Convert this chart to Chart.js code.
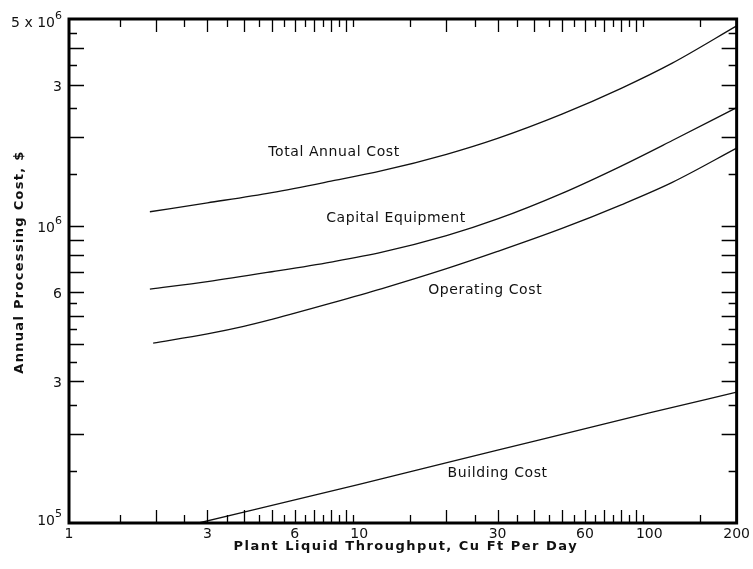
<!DOCTYPE html>
<html>
<head>
<meta charset="utf-8">
<script src="https://cdn.jsdelivr.net/npm/chart.js@4.4.1/dist/chart.umd.min.js"></script>
<style>
  body { margin: 0; background: #fff; }
</style>
</head>
<body>
<canvas id="myChart" width="753" height="569"></canvas>
<script>
// Values (throughput in cu ft per day, cost in $)
let throughput = [1.9, 3, 5, 8, 12, 20, 30, 50, 80, 120, 200];
let totalCost = [1.12e6, 1.20e6, 1.30e6, 1.42e6, 1.54e6, 1.75e6, 1.98e6, 2.39e6, 2.92e6, 3.55e6, 4.74e6];
let capitalCost = [6.14e5, 6.51e5, 7.03e5, 7.58e5, 8.18e5, 9.30e5, 1.059e6, 1.292e6, 1.597e6, 1.947e6, 2.514e6];

let operatingThroughput = [1.95, 3, 4, 5, 8, 12, 20, 30, 50, 80, 120, 200];
let operatingCost = [4.04e5, 4.34e5, 4.60e5, 4.86e5, 5.51e5, 6.17e5, 7.20e5, 8.23e5, 9.84e5, 1.182e6, 1.407e6, 1.835e6];

let buildingThroughput = [2.8, 10, 30, 100, 200];
let buildingCost = [1.0e5, 1.35e5, 1.76e5, 2.35e5, 2.76e5];

// Tick labels
let xTickLabels = [1, 3, 6, 10, 30, 60, 100, 200];
let yTickLabels = [1e5, 3e5, 6e5, 1e6, 3e6, 5e6];

// Curve names written on the chart, placed in data units
let curveNames = ["Total Annual Cost", "Capital Equipment", "Operating Cost", "Building Cost"];
let curveNameX = [8.19, 13.4, 27.2, 30.0];
let curveNameY = [1.78e6, 1.068e6, 6.1e5, 1.474e5];

let xTitle = "Plant Liquid Throughput, Cu Ft Per Day";
let yTitle = "Annual Processing Cost, $";

let fontFamily = "'DejaVu Sans', sans-serif";

function toPoints(xs, ys) {
    return xs.map(function(v, i) { return { x: v, y: ys[i] }; });
}

function curve(label, xs, ys) {
    return {
        label: label,
        data: toPoints(xs, ys),
        borderColor: '#111',
        borderWidth: 1.3,
        pointRadius: 0,
        fill: false,
        cubicInterpolationMode: 'monotone'
    };
}

// minor tick positions on the log axes
function minorTicks(min, max, mantissas) {
    let out = [];
    for (let d = Math.pow(10, Math.floor(Math.log10(min))); d < max; d *= 10) {
        mantissas.forEach(function(m) {
            let v = m * d;
            if (v > min * 1.0001 && v < max * 0.9999) out.push(v);
        });
    }
    return out;
}

function isWhole(v) {
    let m = v / Math.pow(10, Math.floor(Math.log10(v) + 1e-9));
    return Math.abs(m - Math.round(m)) < 1e-6;
}

let xMinor = minorTicks(1, 200, [1.5, 2, 2.5, 3, 3.5, 4, 4.5, 5, 5.5, 6, 6.5, 7, 7.5, 8, 8.5, 9, 9.5]).filter(function(v) { return v < 100 || v === 150; });
let yMinor = minorTicks(1e5, 5e6, [1.5, 2, 2.5, 3, 3.5, 4, 4.5, 5, 5.5, 6, 7, 8, 9, 10]);

// Frame, inward ticks, y labels with exponents, axis titles and curve names
const decorations = {
    id: 'decorations',
    afterDraw(chart) {
        const ctx = chart.ctx;
        const a = chart.chartArea;
        const x = chart.scales.x;
        const y = chart.scales.y;
        ctx.save();
        ctx.strokeStyle = '#000';
        ctx.lineWidth = 1.3;
        ctx.beginPath();
        xMinor.forEach(function(v) {
            let px = Math.round(x.getPixelForValue(v)) + 0.5;
            let len = isWhole(v) ? 13 : 8;
            ctx.moveTo(px, a.bottom);
            ctx.lineTo(px, a.bottom - len);
            ctx.moveTo(px, a.top);
            ctx.lineTo(px, a.top + len);
        });
        yMinor.forEach(function(v) {
            let py = Math.round(y.getPixelForValue(v)) + 0.5;
            let len = isWhole(v) ? 15 : 8;
            ctx.moveTo(a.left, py);
            ctx.lineTo(a.left + len, py);
            ctx.moveTo(a.right, py);
            ctx.lineTo(a.right - len, py);
        });
        ctx.stroke();

        // heavy frame
        ctx.lineWidth = 3;
        ctx.strokeRect(a.left, a.top, a.right - a.left, a.bottom - a.top);

        // y tick labels
        ctx.fillStyle = '#111';
        ctx.textBaseline = 'alphabetic';
        ctx.textAlign = 'right';
        let right = a.left - 7;
        yTickLabels.forEach(function(v) {
            let py = y.getPixelForValue(v);
            let exp = Math.floor(Math.log10(v) + 1e-9);
            let m = Math.round(v / Math.pow(10, exp));
            if (v === 1e5 || v === 1e6 || v === 5e6) {
                let base = py + 6;
                if (v === 1e5) base = py + 2;
                if (v === 5e6) base = py + 8;
                ctx.font = '11px ' + fontFamily;
                ctx.fillText(String(exp), right, base - 8);
                let w = ctx.measureText(String(exp)).width;
                ctx.font = '14px ' + fontFamily;
                ctx.fillText(v === 5e6 ? '5 x 10' : '10', right - w, base);
            } else {
                ctx.font = '14px ' + fontFamily;
                ctx.fillText(String(m), right, py + 6);
            }
        });

        // axis titles
        ctx.textAlign = 'center';
        ctx.textBaseline = 'middle';
        ctx.font = 'bold 13px ' + fontFamily;
        ctx.letterSpacing = '1.5px';
        ctx.fillText(xTitle, (a.left + a.right) / 2 + 3, 547);
        ctx.save();
        ctx.translate(20, 262);
        ctx.rotate(-Math.PI / 2);
        ctx.letterSpacing = '1.3px';
        ctx.fillText(yTitle, 0, 0);
        ctx.restore();

        // curve names
        ctx.font = '14px ' + fontFamily;
        ctx.letterSpacing = '0.6px';
        curveNames.forEach(function(t, i) {
            ctx.fillText(t, x.getPixelForValue(curveNameX[i]), y.getPixelForValue(curveNameY[i]));
        });
        ctx.restore();
    }
};

let ctx = document.getElementById('myChart').getContext('2d');
let myChart = new Chart(ctx, {
    type: 'line',
    data: {
        datasets: [
            curve('Total Annual Cost', throughput, totalCost),
            curve('Capital Equipment', throughput, capitalCost),
            curve('Operating Cost', operatingThroughput, operatingCost),
            curve('Building Cost', buildingThroughput, buildingCost)
        ]
    },
    options: {
        responsive: false,
        animation: false,
        devicePixelRatio: 1,
        layout: { padding: { top: 19, right: 15, left: 0, bottom: 0 } },
        plugins: { legend: { display: false }, tooltip: { enabled: false } },
        scales: {
            x: {
                type: 'logarithmic',
                min: 1,
                max: 200,
                grid: { display: false, drawTicks: false },
                border: { display: false },
                afterBuildTicks: function(scale) {
                    scale.ticks = xTickLabels.map(function(v) { return { value: v }; });
                },
                afterFit: function(scale) { scale.height = 46; },
                ticks: {
                    autoSkip: false,
                    maxRotation: 0,
                    padding: 3,
                    color: '#111',
                    font: { family: fontFamily, size: 14 },
                    callback: function(v) { return String(v); }
                }
            },
            y: {
                type: 'logarithmic',
                min: 1e5,
                max: 5e6,
                grid: { display: false, drawTicks: false },
                border: { display: false },
                ticks: { display: false },
                afterFit: function(scale) { scale.width = 69; }
            }
        }
    },
    plugins: [decorations]
});
</script>
</body>
</html>
